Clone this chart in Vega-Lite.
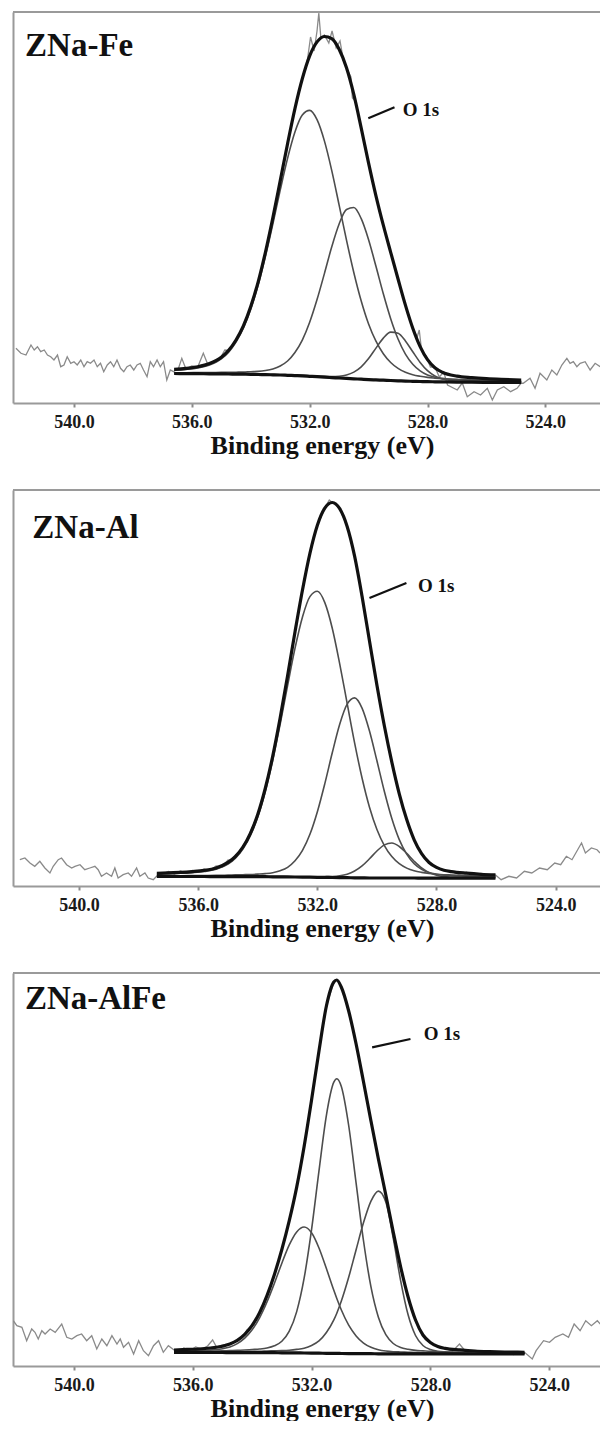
{
"$schema": "https://vega.github.io/schema/vega-lite/v6.json",
"padding": {"left": 12, "top": 11, "right": 0, "bottom": 0},
"spacing": 31,
"config": {
 "view": {"stroke": null},
 "axisX": {"grid": false, "domainColor": "#9a9a9a", "domainWidth": 2, "tickColor": "#8a8a8a", "tickSize": 4, "tickWidth": 2, "labelFont": "Liberation Serif", "labelFontSize": 18, "labelFontWeight": "bold", "labelColor": "#1a1a1a", "labelPadding": 6, "titleFont": "Liberation Serif", "titleFontSize": 26, "titleFontWeight": "bold", "titleColor": "#111111", "titlePadding": 1, "titleX": 309},
 "axisY": {"grid": false, "domainColor": "#9a9a9a", "domainWidth": 2, "ticks": false, "labels": false},
 "text": {"font": "Liberation Serif", "fontWeight": "bold", "color": "#111111"}
},
"datasets": {
"fit": [
{"p":1,"e":536.6,"bg":29.5,"c1":32.8,"c2":30.3,"c3":29.6,"env":33.7},
{"p":1,"e":536.2,"bg":29.4,"c1":33.6,"c2":30.3,"c3":29.5,"env":34.6},
{"p":1,"e":535.8,"bg":29.3,"c1":35.0,"c2":30.4,"c3":29.4,"env":36.2},
{"p":1,"e":535.4,"bg":29.2,"c1":38.0,"c2":30.5,"c3":29.3,"env":39.4},
{"p":1,"e":535.0,"bg":29.1,"c1":44.1,"c2":30.6,"c3":29.2,"env":45.7},
{"p":1,"e":534.75,"bg":29.0,"c1":50.9,"c2":30.7,"c3":29.1,"env":52.7},
{"p":1,"e":534.5,"bg":28.9,"c1":61.0,"c2":30.8,"c3":29.0,"env":63.0},
{"p":1,"e":534.25,"bg":28.8,"c1":74.8,"c2":30.9,"c3":29.0,"env":77.1},
{"p":1,"e":534.0,"bg":28.7,"c1":93.7,"c2":31.3,"c3":28.9,"env":96.5},
{"p":1,"e":533.75,"bg":28.5,"c1":117.6,"c2":31.6,"c3":28.7,"env":120.9},
{"p":1,"e":533.5,"bg":28.4,"c1":146.7,"c2":32.5,"c3":28.6,"env":151.0},
{"p":1,"e":533.25,"bg":28.2,"c1":179.0,"c2":34.1,"c3":28.5,"env":185.2},
{"p":1,"e":533.0,"bg":28.0,"c1":212.8,"c2":37.0,"c3":28.3,"env":222.1},
{"p":1,"e":532.75,"bg":27.7,"c1":244.6,"c2":42.0,"c3":28.1,"env":259.3},
{"p":1,"e":532.5,"bg":27.4,"c1":270.9,"c2":50.5,"c3":27.8,"env":294.4},
{"p":1,"e":532.25,"bg":27.1,"c1":287.9,"c2":62.9,"c3":27.6,"env":324.2},
{"p":1,"e":532.0,"bg":26.7,"c1":292.6,"c2":80.7,"c3":27.2,"env":347.1},
{"p":1,"e":531.75,"bg":26.3,"c1":283.3,"c2":103.4,"c3":27.0,"env":361.1},
{"p":1,"e":531.5,"bg":25.8,"c1":262.1,"c2":129.4,"c3":26.6,"env":366.5},
{"p":1,"e":531.25,"bg":25.4,"c1":232.4,"c2":156.2,"c3":26.5,"env":364.3},
{"p":1,"e":531.0,"bg":25.0,"c1":197.9,"c2":179.0,"c3":26.8,"env":353.7},
{"p":1,"e":530.75,"bg":24.6,"c1":162.9,"c2":193.5,"c3":28.0,"env":335.2},
{"p":1,"e":530.5,"bg":24.2,"c1":130.3,"c2":195.5,"c3":30.9,"env":308.3},
{"p":1,"e":530.25,"bg":23.8,"c1":102.0,"c2":184.3,"c3":36.2,"env":274.9},
{"p":1,"e":530.0,"bg":23.4,"c1":79.0,"c2":163.3,"c3":44.4,"env":239.9},
{"p":1,"e":529.75,"bg":23.1,"c1":61.8,"c2":136.7,"c3":54.9,"env":207.2},
{"p":1,"e":529.5,"bg":22.8,"c1":49.3,"c2":109.2,"c3":64.9,"env":177.8},
{"p":1,"e":529.25,"bg":22.5,"c1":40.5,"c2":84.3,"c3":70.9,"env":150.7},
{"p":1,"e":529.0,"bg":22.2,"c1":34.6,"c2":64.0,"c3":69.8,"env":124.0},
{"p":1,"e":528.75,"bg":21.9,"c1":30.7,"c2":48.9,"c3":62.1,"env":97.9},
{"p":1,"e":528.5,"bg":21.7,"c1":28.2,"c2":38.8,"c3":51.2,"env":74.8},
{"p":1,"e":528.25,"bg":21.5,"c1":26.7,"c2":32.1,"c3":40.6,"env":56.4},
{"p":1,"e":528.0,"bg":21.3,"c1":25.6,"c2":28.0,"c3":32.3,"env":43.3},
{"p":1,"e":527.75,"bg":21.2,"c1":24.9,"c2":25.8,"c3":27.0,"env":35.3},
{"p":1,"e":527.5,"bg":21.1,"c1":24.3,"c2":24.6,"c3":24.1,"env":30.8},
{"p":1,"e":527.0,"bg":20.9,"c1":23.6,"c2":23.2,"c3":21.9,"env":26.9},
{"p":1,"e":526.5,"bg":20.8,"c1":23.0,"c2":22.6,"c3":21.4,"env":25.4},
{"p":1,"e":526.0,"bg":20.7,"c1":22.5,"c2":22.1,"c3":21.2,"env":24.4},
{"p":1,"e":525.5,"bg":20.6,"c1":22.2,"c2":21.7,"c3":21.0,"env":23.7},
{"p":1,"e":524.82,"bg":20.5,"c1":21.8,"c2":21.4,"c3":20.8,"env":23.0},
{"p":2,"e":537.39,"bg":9.6,"c1":12.0,"c2":10.2,"c3":9.7,"env":12.7},
{"p":2,"e":537.0,"bg":9.6,"c1":12.4,"c2":10.3,"c3":9.7,"env":13.2},
{"p":2,"e":536.6,"bg":9.5,"c1":12.7,"c2":10.3,"c3":9.6,"env":13.6},
{"p":2,"e":536.2,"bg":9.5,"c1":13.4,"c2":10.4,"c3":9.6,"env":14.4},
{"p":2,"e":535.8,"bg":9.5,"c1":14.5,"c2":10.5,"c3":9.6,"env":15.6},
{"p":2,"e":535.4,"bg":9.4,"c1":16.8,"c2":10.6,"c3":9.5,"env":18.1},
{"p":2,"e":535.0,"bg":9.4,"c1":22.0,"c2":10.9,"c3":9.5,"env":23.6},
{"p":2,"e":534.75,"bg":9.4,"c1":27.9,"c2":11.1,"c3":9.5,"env":29.7},
{"p":2,"e":534.5,"bg":9.4,"c1":37.0,"c2":11.3,"c3":9.5,"env":39.0},
{"p":2,"e":534.25,"bg":9.3,"c1":50.3,"c2":11.5,"c3":9.5,"env":52.7},
{"p":2,"e":534.0,"bg":9.3,"c1":68.9,"c2":11.9,"c3":9.5,"env":71.7},
{"p":2,"e":533.75,"bg":9.3,"c1":94.2,"c2":12.4,"c3":9.5,"env":97.5},
{"p":2,"e":533.5,"bg":9.2,"c1":125.4,"c2":13.3,"c3":9.4,"env":129.7},
{"p":2,"e":533.25,"bg":9.2,"c1":161.7,"c2":15.3,"c3":9.4,"env":168.0},
{"p":2,"e":533.0,"bg":9.1,"c1":200.4,"c2":18.7,"c3":9.3,"env":210.2},
{"p":2,"e":532.75,"bg":9.0,"c1":237.8,"c2":25.2,"c3":9.3,"env":254.3},
{"p":2,"e":532.5,"bg":8.9,"c1":269.0,"c2":35.6,"c3":9.2,"env":296.0},
{"p":2,"e":532.25,"bg":8.8,"c1":289.4,"c2":51.7,"c3":9.2,"env":332.7},
{"p":2,"e":532.0,"bg":8.7,"c1":294.7,"c2":74.3,"c3":9.2,"env":360.8},
{"p":2,"e":531.75,"bg":8.6,"c1":283.4,"c2":102.4,"c3":9.3,"env":377.9},
{"p":2,"e":531.5,"bg":8.5,"c1":257.8,"c2":133.2,"c3":9.5,"env":383.5},
{"p":2,"e":531.25,"bg":8.4,"c1":222.2,"c2":161.7,"c3":10.2,"env":377.3},
{"p":2,"e":531.0,"bg":8.3,"c1":182.6,"c2":181.8,"c3":11.8,"env":359.6},
{"p":2,"e":530.75,"bg":8.2,"c1":143.2,"c2":188.1,"c3":15.0,"env":329.9},
{"p":2,"e":530.5,"bg":8.1,"c1":108.0,"c2":177.9,"c3":20.1,"env":289.8},
{"p":2,"e":530.25,"bg":8.0,"c1":78.8,"c2":155.0,"c3":27.2,"env":245.0},
{"p":2,"e":530.0,"bg":8.0,"c1":56.5,"c2":125.2,"c3":35.0,"env":200.7},
{"p":2,"e":529.75,"bg":8.0,"c1":40.4,"c2":94.5,"c3":41.1,"env":160.0},
{"p":2,"e":529.5,"bg":8.0,"c1":29.4,"c2":67.5,"c3":43.0,"env":123.9},
{"p":2,"e":529.25,"bg":8.0,"c1":22.3,"c2":46.4,"c3":39.5,"env":92.2},
{"p":2,"e":529.0,"bg":8.0,"c1":17.9,"c2":31.9,"c3":32.6,"env":66.4},
{"p":2,"e":528.75,"bg":8.0,"c1":15.2,"c2":22.2,"c3":24.8,"env":46.2},
{"p":2,"e":528.5,"bg":7.9,"c1":13.6,"c2":16.6,"c3":18.0,"env":32.4},
{"p":2,"e":528.25,"bg":7.9,"c1":12.5,"c2":13.4,"c3":13.4,"env":23.5},
{"p":2,"e":528.0,"bg":7.9,"c1":11.8,"c2":11.8,"c3":10.8,"env":18.6},
{"p":2,"e":527.75,"bg":7.9,"c1":11.3,"c2":10.9,"c3":9.4,"env":15.8},
{"p":2,"e":527.5,"bg":7.9,"c1":11.0,"c2":10.4,"c3":8.8,"env":14.4},
{"p":2,"e":527.0,"bg":7.9,"c1":10.4,"c2":9.8,"c3":8.4,"env":12.8},
{"p":2,"e":526.5,"bg":7.8,"c1":9.9,"c2":9.2,"c3":8.2,"env":11.7},
{"p":2,"e":526.02,"bg":7.8,"c1":9.6,"c2":9.0,"c3":8.1,"env":11.1},
{"p":3,"e":536.63,"bg":13.6,"c1":14.7,"c2":14.4,"c3":14.1,"env":16.0},
{"p":3,"e":536.2,"bg":13.6,"c1":15.0,"c2":14.6,"c3":14.2,"env":16.6},
{"p":3,"e":535.8,"bg":13.5,"c1":15.2,"c2":14.6,"c3":14.2,"env":17.0},
{"p":3,"e":535.4,"bg":13.5,"c1":15.9,"c2":14.9,"c3":14.2,"env":18.0},
{"p":3,"e":535.0,"bg":13.5,"c1":17.3,"c2":15.2,"c3":14.3,"env":19.8},
{"p":3,"e":534.75,"bg":13.4,"c1":19.1,"c2":15.4,"c3":14.3,"env":22.0},
{"p":3,"e":534.5,"bg":13.4,"c1":22.4,"c2":15.6,"c3":14.4,"env":25.6},
{"p":3,"e":534.25,"bg":13.4,"c1":27.9,"c2":16.0,"c3":14.5,"env":31.6},
{"p":3,"e":534.0,"bg":13.4,"c1":36.2,"c2":16.5,"c3":14.7,"env":40.6},
{"p":3,"e":533.75,"bg":13.3,"c1":48.2,"c2":17.0,"c3":14.7,"env":53.3},
{"p":3,"e":533.5,"bg":13.3,"c1":64.0,"c2":18.0,"c3":15.0,"env":70.4},
{"p":3,"e":533.25,"bg":13.3,"c1":82.8,"c2":20.2,"c3":15.2,"env":91.6},
{"p":3,"e":533.0,"bg":13.2,"c1":102.8,"c2":24.7,"c3":15.4,"env":116.5},
{"p":3,"e":532.75,"bg":13.2,"c1":121.1,"c2":34.8,"c3":15.8,"env":145.3},
{"p":3,"e":532.5,"bg":13.1,"c1":134.1,"c2":54.4,"c3":16.6,"env":178.9},
{"p":3,"e":532.25,"bg":13.0,"c1":139.0,"c2":87.8,"c3":17.8,"env":219.5},
{"p":3,"e":532.0,"bg":12.9,"c1":133.2,"c2":136.3,"c3":20.5,"env":266.0},
{"p":3,"e":531.75,"bg":12.8,"c1":118.0,"c2":195.1,"c3":25.1,"env":315.0},
{"p":3,"e":531.5,"bg":12.7,"c1":97.4,"c2":250.7,"c3":33.5,"env":360.0},
{"p":3,"e":531.25,"bg":12.6,"c1":75.7,"c2":283.8,"c3":46.1,"env":384.0},
{"p":3,"e":531.15,"bg":12.6,"c1":67.5,"c2":287.2,"c3":52.8,"env":386.0},
{"p":3,"e":531.0,"bg":12.5,"c1":56.2,"c2":279.7,"c3":64.7,"env":379.0},
{"p":3,"e":530.75,"bg":12.4,"c1":40.8,"c2":240.5,"c3":88.7,"env":355.0},
{"p":3,"e":530.5,"bg":12.4,"c1":30.1,"c2":182.8,"c3":116.3,"env":322.0},
{"p":3,"e":530.25,"bg":12.3,"c1":22.9,"c2":125.0,"c3":143.4,"env":284.0},
{"p":3,"e":530.0,"bg":12.3,"c1":18.7,"c2":79.1,"c3":164.8,"env":245.0},
{"p":3,"e":529.75,"bg":12.2,"c1":16.3,"c2":48.8,"c3":174.9,"env":207.0},
{"p":3,"e":529.5,"bg":12.2,"c1":15.0,"c2":31.3,"c3":164.0,"env":171.0},
{"p":3,"e":529.25,"bg":12.2,"c1":14.3,"c2":22.5,"c3":127.8,"env":134.0},
{"p":3,"e":529.0,"bg":12.2,"c1":14.0,"c2":18.4,"c3":85.2,"env":99.0},
{"p":3,"e":528.75,"bg":12.2,"c1":13.7,"c2":16.7,"c3":51.2,"env":69.0},
{"p":3,"e":528.5,"bg":12.1,"c1":13.4,"c2":15.6,"c3":30.5,"env":46.0},
{"p":3,"e":528.25,"bg":12.1,"c1":13.3,"c2":15.1,"c3":20.5,"env":31.0},
{"p":3,"e":528.0,"bg":12.1,"c1":13.1,"c2":14.6,"c3":16.4,"env":23.5},
{"p":3,"e":527.75,"bg":12.1,"c1":13.0,"c2":14.3,"c3":14.8,"env":19.5},
{"p":3,"e":527.5,"bg":12.1,"c1":13.0,"c2":14.0,"c3":14.1,"env":17.6},
{"p":3,"e":527.0,"bg":12.1,"c1":12.9,"c2":13.6,"c3":13.4,"env":16.1},
{"p":3,"e":526.5,"bg":12.0,"c1":12.7,"c2":13.1,"c3":13.0,"env":15.0},
{"p":3,"e":526.0,"bg":12.0,"c1":12.6,"c2":12.9,"c3":12.7,"env":14.4},
{"p":3,"e":525.5,"bg":12.0,"c1":12.5,"c2":12.8,"c3":12.6,"env":14.0},
{"p":3,"e":524.83,"bg":12.0,"c1":12.5,"c2":12.6,"c3":12.4,"env":13.7}
],
"raw": [
{"p":1,"e":541.97,"v":54.7},{"p":1,"e":541.8,"v":49.7},{"p":1,"e":541.63,"v":48},{"p":1,"e":541.46,"v":58},{"p":1,"e":541.35,"v":53},{"p":1,"e":541.24,"v":56.3},{"p":1,"e":541.13,"v":51.3},{"p":1,"e":541.01,"v":53},{"p":1,"e":540.9,"v":48},{"p":1,"e":540.79,"v":46.3},{"p":1,"e":540.68,"v":43},{"p":1,"e":540.56,"v":48},{"p":1,"e":540.45,"v":36.3},{"p":1,"e":540.34,"v":38},{"p":1,"e":540.23,"v":46.3},{"p":1,"e":540.11,"v":39.7},{"p":1,"e":540.0,"v":41.3},{"p":1,"e":539.89,"v":38},{"p":1,"e":539.77,"v":43},{"p":1,"e":539.66,"v":36.3},{"p":1,"e":539.55,"v":41.3},{"p":1,"e":539.44,"v":39.7},{"p":1,"e":539.32,"v":43},{"p":1,"e":539.21,"v":36.3},{"p":1,"e":539.1,"v":39.7},{"p":1,"e":538.99,"v":31.3},{"p":1,"e":538.87,"v":38},{"p":1,"e":538.76,"v":41.3},{"p":1,"e":538.65,"v":36.3},{"p":1,"e":538.54,"v":43},{"p":1,"e":538.42,"v":34.7},{"p":1,"e":538.31,"v":31.3},{"p":1,"e":538.2,"v":36.3},{"p":1,"e":538.09,"v":38},{"p":1,"e":537.97,"v":33},{"p":1,"e":537.86,"v":38},{"p":1,"e":537.75,"v":39.7},{"p":1,"e":537.64,"v":33},{"p":1,"e":537.52,"v":26.3},{"p":1,"e":537.41,"v":41.3},{"p":1,"e":537.3,"v":36.3},{"p":1,"e":537.18,"v":43},{"p":1,"e":537.07,"v":36.3},{"p":1,"e":536.96,"v":41.3},{"p":1,"e":536.85,"v":23},{"p":1,"e":536.73,"v":33},{"p":1,"e":536.62,"v":31.3},
{"p":1,"e":536.45,"v":35},{"p":1,"e":536.34,"v":44.7},{"p":1,"e":536.2,"v":34},{"p":1,"e":536.0,"v":37},{"p":1,"e":535.8,"v":36},{"p":1,"e":535.61,"v":49.7},{"p":1,"e":535.45,"v":38},{"p":1,"e":535.25,"v":42},{"p":1,"e":535.05,"v":44},{"p":1,"e":534.88,"v":53},{"p":1,"e":534.75,"v":52.7},{"p":1,"e":534.5,"v":63},{"p":1,"e":534.25,"v":77},{"p":1,"e":534.0,"v":96.5},{"p":1,"e":533.75,"v":121},{"p":1,"e":533.5,"v":151},{"p":1,"e":533.25,"v":185},{"p":1,"e":533.0,"v":222},{"p":1,"e":532.75,"v":259},{"p":1,"e":532.5,"v":294},{"p":1,"e":532.25,"v":324},{"p":1,"e":532.1,"v":338},{"p":1,"e":531.97,"v":366},{"p":1,"e":531.85,"v":352},{"p":1,"e":531.75,"v":372},{"p":1,"e":531.69,"v":390},{"p":1,"e":531.62,"v":365},{"p":1,"e":531.5,"v":368},{"p":1,"e":531.35,"v":360},{"p":1,"e":531.24,"v":372},{"p":1,"e":531.1,"v":355},{"p":1,"e":530.97,"v":362},{"p":1,"e":530.85,"v":342},{"p":1,"e":530.75,"v":335},{"p":1,"e":530.6,"v":326},{"p":1,"e":530.55,"v":305},{"p":1,"e":530.45,"v":302},{"p":1,"e":530.25,"v":275},{"p":1,"e":530.0,"v":240},{"p":1,"e":529.75,"v":207},{"p":1,"e":529.5,"v":178},{"p":1,"e":529.25,"v":151},{"p":1,"e":529.0,"v":124},{"p":1,"e":528.75,"v":98},{"p":1,"e":528.5,"v":75},{"p":1,"e":528.35,"v":66},{"p":1,"e":528.28,"v":73},{"p":1,"e":528.2,"v":52},{"p":1,"e":528.05,"v":47},{"p":1,"e":527.9,"v":36},{"p":1,"e":527.75,"v":36},{"p":1,"e":527.6,"v":26},{"p":1,"e":527.45,"v":31},{"p":1,"e":527.32,"v":18},{"p":1,"e":526.99,"v":13},{"p":1,"e":526.82,"v":20},{"p":1,"e":526.65,"v":6.3},{"p":1,"e":526.42,"v":11.3},{"p":1,"e":526.2,"v":8},{"p":1,"e":525.97,"v":14.7},{"p":1,"e":525.8,"v":3},{"p":1,"e":525.63,"v":13},{"p":1,"e":525.41,"v":16.3},{"p":1,"e":525.18,"v":11.3},{"p":1,"e":524.96,"v":14.7},{"p":1,"e":524.82,"v":20},
{"p":1,"e":524.75,"v":19.7},{"p":1,"e":524.52,"v":24.7},{"p":1,"e":524.35,"v":14.7},{"p":1,"e":524.18,"v":29.7},{"p":1,"e":523.95,"v":23},{"p":1,"e":523.78,"v":33},{"p":1,"e":523.61,"v":28},{"p":1,"e":523.44,"v":38},{"p":1,"e":523.27,"v":44.7},{"p":1,"e":523.16,"v":39.7},{"p":1,"e":523.05,"v":41.3},{"p":1,"e":522.93,"v":36.3},{"p":1,"e":522.82,"v":39.7},{"p":1,"e":522.65,"v":41.3},{"p":1,"e":522.48,"v":33},{"p":1,"e":522.31,"v":39.7},{"p":1,"e":522.14,"v":36.3},
{"p":2,"e":541.99,"v":26.3},{"p":2,"e":541.82,"v":28},{"p":2,"e":541.65,"v":23},{"p":2,"e":541.49,"v":19.7},{"p":2,"e":541.32,"v":24.7},{"p":2,"e":541.15,"v":18},{"p":2,"e":540.98,"v":13},{"p":2,"e":540.87,"v":19.7},{"p":2,"e":540.7,"v":26.3},{"p":2,"e":540.59,"v":28},{"p":2,"e":540.42,"v":21.3},{"p":2,"e":540.25,"v":18},{"p":2,"e":540.14,"v":19.7},{"p":2,"e":539.97,"v":21.3},{"p":2,"e":539.81,"v":16.3},{"p":2,"e":539.64,"v":18},{"p":2,"e":539.47,"v":19.7},{"p":2,"e":539.36,"v":16.3},{"p":2,"e":539.25,"v":9.7},{"p":2,"e":539.08,"v":13},{"p":2,"e":538.91,"v":9.7},{"p":2,"e":538.8,"v":18},{"p":2,"e":538.69,"v":8},{"p":2,"e":538.52,"v":11.3},{"p":2,"e":538.35,"v":13},{"p":2,"e":538.24,"v":9.7},{"p":2,"e":538.07,"v":18},{"p":2,"e":537.96,"v":9.7},{"p":2,"e":537.79,"v":13},{"p":2,"e":537.68,"v":8},{"p":2,"e":537.51,"v":6.3},{"p":2,"e":537.4,"v":9.7},
{"p":2,"e":537.2,"v":12},{"p":2,"e":537.0,"v":14.5},{"p":2,"e":536.8,"v":12},{"p":2,"e":536.6,"v":15},{"p":2,"e":536.4,"v":13},{"p":2,"e":536.2,"v":15.5},{"p":2,"e":536.0,"v":14},{"p":2,"e":535.8,"v":17},{"p":2,"e":535.6,"v":15.5},{"p":2,"e":535.4,"v":20},{"p":2,"e":535.2,"v":19},{"p":2,"e":535.0,"v":26},{"p":2,"e":534.85,"v":25},{"p":2,"e":534.75,"v":31},{"p":2,"e":534.6,"v":33},{"p":2,"e":534.5,"v":40},{"p":2,"e":534.35,"v":44},{"p":2,"e":534.25,"v":54},{"p":2,"e":534.0,"v":71.7},{"p":2,"e":533.75,"v":97.5},{"p":2,"e":533.5,"v":129.7},{"p":2,"e":533.25,"v":168},{"p":2,"e":533.0,"v":210.2},{"p":2,"e":532.75,"v":254.3},{"p":2,"e":532.5,"v":296},{"p":2,"e":532.25,"v":332.7},{"p":2,"e":532.0,"v":360.8},{"p":2,"e":531.75,"v":377.9},{"p":2,"e":531.6,"v":386},{"p":2,"e":531.5,"v":383.5},{"p":2,"e":531.25,"v":377.3},{"p":2,"e":531.0,"v":359.6},{"p":2,"e":530.75,"v":329.9},{"p":2,"e":530.5,"v":289.8},{"p":2,"e":530.25,"v":245},{"p":2,"e":530.0,"v":200.7},{"p":2,"e":529.75,"v":160},{"p":2,"e":529.5,"v":123.9},{"p":2,"e":529.25,"v":92.2},{"p":2,"e":529.0,"v":66.4},{"p":2,"e":528.75,"v":46.2},{"p":2,"e":528.5,"v":32.4},{"p":2,"e":528.25,"v":23.5},{"p":2,"e":528.0,"v":18.6},{"p":2,"e":527.75,"v":15.8},{"p":2,"e":527.5,"v":14.4},{"p":2,"e":527.25,"v":12},{"p":2,"e":527.0,"v":13.8},{"p":2,"e":526.75,"v":11},{"p":2,"e":526.5,"v":12.5},{"p":2,"e":526.25,"v":9.5},{"p":2,"e":526.02,"v":11},
{"p":2,"e":525.83,"v":6.3},{"p":2,"e":525.57,"v":9.7},{"p":2,"e":525.31,"v":8},{"p":2,"e":525.05,"v":14.7},{"p":2,"e":524.8,"v":13},{"p":2,"e":524.54,"v":18},{"p":2,"e":524.28,"v":16.3},{"p":2,"e":524.03,"v":23},{"p":2,"e":523.83,"v":21.3},{"p":2,"e":523.64,"v":29.7},{"p":2,"e":523.45,"v":26.3},{"p":2,"e":523.26,"v":36.3},{"p":2,"e":523.13,"v":43},{"p":2,"e":523.0,"v":33},{"p":2,"e":522.8,"v":38},{"p":2,"e":522.61,"v":36.3},{"p":2,"e":522.51,"v":33},
{"p":3,"e":542.04,"v":45.3},{"p":3,"e":541.92,"v":40.3},{"p":3,"e":541.75,"v":38.7},{"p":3,"e":541.59,"v":25.3},{"p":3,"e":541.42,"v":37},{"p":3,"e":541.31,"v":33.7},{"p":3,"e":541.2,"v":27},{"p":3,"e":541.08,"v":35.3},{"p":3,"e":540.97,"v":32},{"p":3,"e":540.8,"v":37},{"p":3,"e":540.63,"v":33.7},{"p":3,"e":540.41,"v":42},{"p":3,"e":540.24,"v":28.7},{"p":3,"e":540.07,"v":27},{"p":3,"e":539.9,"v":30.3},{"p":3,"e":539.74,"v":32},{"p":3,"e":539.57,"v":25.3},{"p":3,"e":539.4,"v":30.3},{"p":3,"e":539.23,"v":17},{"p":3,"e":539.06,"v":27},{"p":3,"e":538.89,"v":20.3},{"p":3,"e":538.72,"v":30.3},{"p":3,"e":538.55,"v":22},{"p":3,"e":538.44,"v":27},{"p":3,"e":538.33,"v":18.7},{"p":3,"e":538.16,"v":23.7},{"p":3,"e":537.99,"v":12},{"p":3,"e":537.82,"v":25.3},{"p":3,"e":537.66,"v":15.3},{"p":3,"e":537.49,"v":10.3},{"p":3,"e":537.32,"v":20.3},{"p":3,"e":537.15,"v":25.3},{"p":3,"e":536.99,"v":13.7},{"p":3,"e":536.82,"v":20.3},
{"p":3,"e":536.63,"v":16},{"p":3,"e":536.45,"v":14},{"p":3,"e":536.3,"v":18},{"p":3,"e":536.1,"v":15.5},{"p":3,"e":535.9,"v":19},{"p":3,"e":535.7,"v":17},{"p":3,"e":535.5,"v":20},{"p":3,"e":535.33,"v":26},{"p":3,"e":535.2,"v":19},{"p":3,"e":535.0,"v":21},{"p":3,"e":534.75,"v":22},{"p":3,"e":534.5,"v":25.6},{"p":3,"e":534.25,"v":31.6},{"p":3,"e":534.18,"v":36},{"p":3,"e":534.0,"v":40.6},{"p":3,"e":533.75,"v":53.3},{"p":3,"e":533.5,"v":70.4},{"p":3,"e":533.25,"v":91.6},{"p":3,"e":533.0,"v":116.5},{"p":3,"e":532.75,"v":145.3},{"p":3,"e":532.5,"v":178.9},{"p":3,"e":532.25,"v":219.5},{"p":3,"e":532.0,"v":266},{"p":3,"e":531.75,"v":315},{"p":3,"e":531.5,"v":360},{"p":3,"e":531.25,"v":384},{"p":3,"e":531.15,"v":386},{"p":3,"e":531.0,"v":379},{"p":3,"e":530.75,"v":355},{"p":3,"e":530.5,"v":322},{"p":3,"e":530.25,"v":284},{"p":3,"e":530.0,"v":245},{"p":3,"e":529.75,"v":207},{"p":3,"e":529.5,"v":171},{"p":3,"e":529.25,"v":134},{"p":3,"e":529.0,"v":99},{"p":3,"e":528.75,"v":69},{"p":3,"e":528.5,"v":46},{"p":3,"e":528.25,"v":31},{"p":3,"e":528.0,"v":23.5},{"p":3,"e":527.75,"v":19.5},{"p":3,"e":527.5,"v":17.6},{"p":3,"e":527.25,"v":15},{"p":3,"e":527.02,"v":22},{"p":3,"e":526.8,"v":14},{"p":3,"e":526.5,"v":15},{"p":3,"e":526.25,"v":12.5},{"p":3,"e":526.0,"v":14.4},{"p":3,"e":525.75,"v":13},{"p":3,"e":525.5,"v":14},{"p":3,"e":525.2,"v":11.5},{"p":3,"e":525.0,"v":14},{"p":3,"e":524.83,"v":13.7},
{"p":3,"e":524.57,"v":7},{"p":3,"e":524.44,"v":15.3},{"p":3,"e":524.19,"v":25.3},{"p":3,"e":523.99,"v":23.7},{"p":3,"e":523.8,"v":28.7},{"p":3,"e":523.54,"v":32},{"p":3,"e":523.35,"v":28.7},{"p":3,"e":523.16,"v":42},{"p":3,"e":522.96,"v":35.3},{"p":3,"e":522.77,"v":45.3},{"p":3,"e":522.58,"v":40.3},{"p":3,"e":522.38,"v":45.3},{"p":3,"e":522.28,"v":42}
]
},
"vconcat": [
{
 "width": 587, "height": 391,
 "layer": [
  {"data": {"name": "raw"}, "transform": [{"filter": "datum.p == 1"}],
   "mark": {"type": "line", "color": "#8a8a8a", "strokeWidth": 1.3, "clip": true},
   "encoding": {"x": {"field": "e", "type": "quantitative", "scale": {"domain": [542.07, 522.145], "nice": false, "zero": false}, "axis": {"title": "Binding energy (eV)", "values": [540, 536, 532, 528, 524], "format": ".1f"}},
                "y": {"field": "v", "type": "quantitative", "scale": {"domain": [0, 391], "nice": false, "zero": false}, "axis": {"title": null}}}},
  {"data": {"name": "fit"}, "transform": [{"filter": "datum.p == 1"}, {"fold": ["c1", "c2", "c3"], "as": ["s", "val"]}],
   "mark": {"type": "line", "color": "#4d4d4d", "strokeWidth": 1.6, "interpolate": "monotone", "clip": true},
   "encoding": {"x": {"field": "e", "type": "quantitative", "scale": {"domain": [542.07, 522.145], "nice": false, "zero": false}, "axis": {"title": "Binding energy (eV)", "values": [540, 536, 532, 528, 524], "format": ".1f"}},
                "y": {"field": "val", "type": "quantitative", "scale": {"domain": [0, 391], "nice": false, "zero": false}, "axis": {"title": null}},
                "detail": {"field": "s"}}},
  {"data": {"name": "fit"}, "transform": [{"filter": "datum.p == 1"}, {"fold": ["bg", "env"], "as": ["s", "val"]}],
   "mark": {"type": "line", "color": "#111111", "strokeWidth": 3.2, "interpolate": "monotone", "clip": true},
   "encoding": {"x": {"field": "e", "type": "quantitative", "scale": {"domain": [542.07, 522.145], "nice": false, "zero": false}, "axis": {"title": "Binding energy (eV)", "values": [540, 536, 532, 528, 524], "format": ".1f"}},
                "y": {"field": "val", "type": "quantitative", "scale": {"domain": [0, 391], "nice": false, "zero": false}, "axis": {"title": null}},
                "detail": {"field": "s"}}},
  {"data": {"values": [{}]}, "mark": {"type": "rule", "color": "#9a9a9a", "strokeWidth": 2},
   "encoding": {"y": {"datum": 391, "scale": {"domain": [0, 391], "nice": false, "zero": false}, "axis": {"title": null}}}},
  {"data": {"values": [{}]}, "mark": {"type": "rule", "color": "#111111", "strokeWidth": 2.2},
   "encoding": {"x": {"datum": 530.01, "scale": {"domain": [542.07, 522.145], "nice": false, "zero": false}, "axis": {"title": "Binding energy (eV)", "values": [540, 536, 532, 528, 524], "format": ".1f"}},
                "y": {"datum": 284.7, "scale": {"domain": [0, 391], "nice": false, "zero": false}, "axis": {"title": null}},
                "x2": {"datum": 529.12}, "y2": {"datum": 295.7}}},
  {"data": {"values": [{}]}, "mark": {"type": "text", "fontSize": 19, "align": "left", "baseline": "middle"},
   "encoding": {"x": {"datum": 528.84, "scale": {"domain": [542.07, 522.145], "nice": false, "zero": false}, "axis": {"title": "Binding energy (eV)", "values": [540, 536, 532, 528, 524], "format": ".1f"}},
                "y": {"datum": 293, "scale": {"domain": [0, 391], "nice": false, "zero": false}, "axis": {"title": null}},
                "text": {"value": "O 1s"}}},
  {"data": {"values": [{}]}, "mark": {"type": "text", "fontSize": 33, "align": "left", "baseline": "alphabetic"},
   "encoding": {"x": {"datum": 541.66, "scale": {"domain": [542.07, 522.145], "nice": false, "zero": false}, "axis": {"title": "Binding energy (eV)", "values": [540, 536, 532, 528, 524], "format": ".1f"}},
                "y": {"datum": 346.6, "scale": {"domain": [0, 391], "nice": false, "zero": false}, "axis": {"title": null}},
                "text": {"value": "ZNa-Fe"}}}
 ]
},
{
 "width": 587, "height": 396,
 "layer": [
  {"data": {"name": "raw"}, "transform": [{"filter": "datum.p == 2"}],
   "mark": {"type": "line", "color": "#8a8a8a", "strokeWidth": 1.3, "clip": true},
   "encoding": {"x": {"field": "e", "type": "quantitative", "scale": {"domain": [542.22, 522.51], "nice": false, "zero": false}, "axis": {"title": "Binding energy (eV)", "values": [540, 536, 532, 528, 524], "format": ".1f"}},
                "y": {"field": "v", "type": "quantitative", "scale": {"domain": [0, 396], "nice": false, "zero": false}, "axis": {"title": null}}}},
  {"data": {"name": "fit"}, "transform": [{"filter": "datum.p == 2"}, {"fold": ["c1", "c2", "c3"], "as": ["s", "val"]}],
   "mark": {"type": "line", "color": "#4d4d4d", "strokeWidth": 1.6, "interpolate": "monotone", "clip": true},
   "encoding": {"x": {"field": "e", "type": "quantitative", "scale": {"domain": [542.22, 522.51], "nice": false, "zero": false}, "axis": {"title": "Binding energy (eV)", "values": [540, 536, 532, 528, 524], "format": ".1f"}},
                "y": {"field": "val", "type": "quantitative", "scale": {"domain": [0, 396], "nice": false, "zero": false}, "axis": {"title": null}},
                "detail": {"field": "s"}}},
  {"data": {"name": "fit"}, "transform": [{"filter": "datum.p == 2"}, {"fold": ["bg", "env"], "as": ["s", "val"]}],
   "mark": {"type": "line", "color": "#111111", "strokeWidth": 3.2, "interpolate": "monotone", "clip": true},
   "encoding": {"x": {"field": "e", "type": "quantitative", "scale": {"domain": [542.22, 522.51], "nice": false, "zero": false}, "axis": {"title": "Binding energy (eV)", "values": [540, 536, 532, 528, 524], "format": ".1f"}},
                "y": {"field": "val", "type": "quantitative", "scale": {"domain": [0, 396], "nice": false, "zero": false}, "axis": {"title": null}},
                "detail": {"field": "s"}}},
  {"data": {"values": [{}]}, "mark": {"type": "rule", "color": "#9a9a9a", "strokeWidth": 2},
   "encoding": {"y": {"datum": 396, "scale": {"domain": [0, 396], "nice": false, "zero": false}, "axis": {"title": null}}}},
  {"data": {"values": [{}]}, "mark": {"type": "rule", "color": "#111111", "strokeWidth": 2.2},
   "encoding": {"x": {"datum": 530.25, "scale": {"domain": [542.22, 522.51], "nice": false, "zero": false}, "axis": {"title": "Binding energy (eV)", "values": [540, 536, 532, 528, 524], "format": ".1f"}},
                "y": {"datum": 288, "scale": {"domain": [0, 396], "nice": false, "zero": false}, "axis": {"title": null}},
                "x2": {"datum": 529.01}, "y2": {"datum": 303}}},
  {"data": {"values": [{}]}, "mark": {"type": "text", "fontSize": 19, "align": "left", "baseline": "middle"},
   "encoding": {"x": {"datum": 528.62, "scale": {"domain": [542.22, 522.51], "nice": false, "zero": false}, "axis": {"title": "Binding energy (eV)", "values": [540, 536, 532, 528, 524], "format": ".1f"}},
                "y": {"datum": 299.7, "scale": {"domain": [0, 396], "nice": false, "zero": false}, "axis": {"title": null}},
                "text": {"value": "O 1s"}}},
  {"data": {"values": [{}]}, "mark": {"type": "text", "fontSize": 33, "align": "left", "baseline": "alphabetic"},
   "encoding": {"x": {"datum": 541.57, "scale": {"domain": [542.22, 522.51], "nice": false, "zero": false}, "axis": {"title": "Binding energy (eV)", "values": [540, 536, 532, 528, 524], "format": ".1f"}},
                "y": {"datum": 348, "scale": {"domain": [0, 396], "nice": false, "zero": false}, "axis": {"title": null}},
                "text": {"value": "ZNa-Al"}}}
 ]
},
{
 "width": 587, "height": 393,
 "layer": [
  {"data": {"name": "raw"}, "transform": [{"filter": "datum.p == 3"}],
   "mark": {"type": "line", "color": "#8a8a8a", "strokeWidth": 1.3, "clip": true},
   "encoding": {"x": {"field": "e", "type": "quantitative", "scale": {"domain": [542.05, 522.29], "nice": false, "zero": false}, "axis": {"title": "Binding energy (eV)", "values": [540, 536, 532, 528, 524], "format": ".1f"}},
                "y": {"field": "v", "type": "quantitative", "scale": {"domain": [0, 393], "nice": false, "zero": false}, "axis": {"title": null}}}},
  {"data": {"name": "fit"}, "transform": [{"filter": "datum.p == 3"}, {"fold": ["c1", "c2", "c3"], "as": ["s", "val"]}],
   "mark": {"type": "line", "color": "#4d4d4d", "strokeWidth": 1.6, "interpolate": "monotone", "clip": true},
   "encoding": {"x": {"field": "e", "type": "quantitative", "scale": {"domain": [542.05, 522.29], "nice": false, "zero": false}, "axis": {"title": "Binding energy (eV)", "values": [540, 536, 532, 528, 524], "format": ".1f"}},
                "y": {"field": "val", "type": "quantitative", "scale": {"domain": [0, 393], "nice": false, "zero": false}, "axis": {"title": null}},
                "detail": {"field": "s"}}},
  {"data": {"name": "fit"}, "transform": [{"filter": "datum.p == 3"}, {"fold": ["bg", "env"], "as": ["s", "val"]}],
   "mark": {"type": "line", "color": "#111111", "strokeWidth": 3.2, "interpolate": "monotone", "clip": true},
   "encoding": {"x": {"field": "e", "type": "quantitative", "scale": {"domain": [542.05, 522.29], "nice": false, "zero": false}, "axis": {"title": "Binding energy (eV)", "values": [540, 536, 532, 528, 524], "format": ".1f"}},
                "y": {"field": "val", "type": "quantitative", "scale": {"domain": [0, 393], "nice": false, "zero": false}, "axis": {"title": null}},
                "detail": {"field": "s"}}},
  {"data": {"values": [{}]}, "mark": {"type": "rule", "color": "#9a9a9a", "strokeWidth": 2},
   "encoding": {"y": {"datum": 393, "scale": {"domain": [0, 393], "nice": false, "zero": false}, "axis": {"title": null}}}},
  {"data": {"values": [{}]}, "mark": {"type": "rule", "color": "#111111", "strokeWidth": 2.2},
   "encoding": {"x": {"datum": 529.96, "scale": {"domain": [542.05, 522.29], "nice": false, "zero": false}, "axis": {"title": "Binding energy (eV)", "values": [540, 536, 532, 528, 524], "format": ".1f"}},
                "y": {"datum": 318.7, "scale": {"domain": [0, 393], "nice": false, "zero": false}, "axis": {"title": null}},
                "x2": {"datum": 528.67}, "y2": {"datum": 327}}},
  {"data": {"values": [{}]}, "mark": {"type": "text", "fontSize": 19, "align": "left", "baseline": "middle"},
   "encoding": {"x": {"datum": 528.22, "scale": {"domain": [542.05, 522.29], "nice": false, "zero": false}, "axis": {"title": "Binding energy (eV)", "values": [540, 536, 532, 528, 524], "format": ".1f"}},
                "y": {"datum": 332, "scale": {"domain": [0, 393], "nice": false, "zero": false}, "axis": {"title": null}},
                "text": {"value": "O 1s"}}},
  {"data": {"values": [{}]}, "mark": {"type": "text", "fontSize": 33, "align": "left", "baseline": "alphabetic"},
   "encoding": {"x": {"datum": 541.65, "scale": {"domain": [542.05, 522.29], "nice": false, "zero": false}, "axis": {"title": "Binding energy (eV)", "values": [540, 536, 532, 528, 524], "format": ".1f"}},
                "y": {"datum": 356.7, "scale": {"domain": [0, 393], "nice": false, "zero": false}, "axis": {"title": null}},
                "text": {"value": "ZNa-AlFe"}}}
 ]
}
]
}
